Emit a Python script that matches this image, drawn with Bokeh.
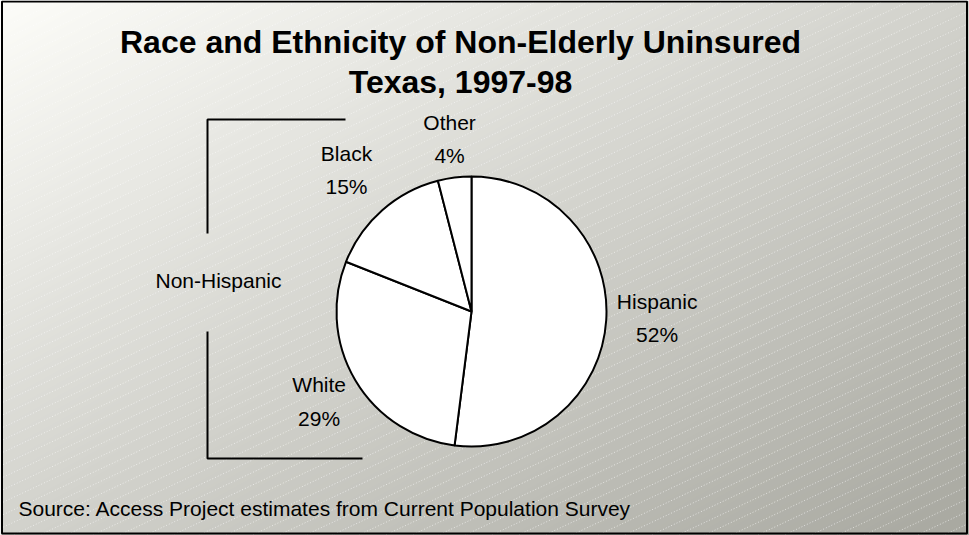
import numpy as np
from bokeh.plotting import figure
from bokeh.models import Range1d, ColumnDataSource
from bokeh.core.properties import value
from bokeh.embed import file_html
from bokeh.resources import INLINE

# Uninsured non-elderly Texans by race/ethnicity, 1997-98 (percent)
groups = ["Hispanic", "White", "Black", "Other"]
shares = [52, 29, 15, 4]
title_lines = ["Race and Ethnicity of Non-Elderly Uninsured", "Texas, 1997-98"]
source_note = "Source: Access Project estimates from Current Population Survey"
bracket_label = "Non-Hispanic"

W, H = 969, 535
FONT = "Liberation Sans"

p = figure(width=W, height=H, x_range=Range1d(0, W), y_range=Range1d(0, H),
           output_backend="svg", toolbar_location=None, min_border=0)
p.axis.visible = False
p.grid.visible = False
p.outline_line_color = None
p.background_fill_color = "#ffffff"
p.border_fill_color = "#ffffff"

# diagonal grey gradient backdrop, light at top-left, darker at bottom-right
light = np.array([253, 253, 249], dtype=float)
dark = np.array([168, 168, 160], dtype=float)
yy, xx = np.mgrid[0:H, 0:W]
t = (xx / W + (H - yy) / H) / 2.0
t = np.clip(t, 0, 1)[..., None]
rgb = (light * (1 - t) + dark * t).astype(np.uint32)
img = (255 << 24) | (rgb[..., 2] << 16) | (rgb[..., 1] << 8) | rgb[..., 0]
p.image_rgba(image=[img.astype(np.uint32)], x=0, y=0, dw=W, dh=H)

# faint white dotted diagonal hatching
slope = 0.47
xs, ys = [], []
for c in np.arange(-slope * W, H + 20, 12.5):
    xs.append([0, W])
    ys.append([c, c + slope * W])
p.multi_line(xs, ys, line_color="white", line_alpha=0.6, line_width=1, line_dash="1 2")

# pie wedges, clockwise from twelve o'clock
cx, cy, r = 471, 224, 135
frac = np.array(shares, dtype=float) / sum(shares)
cum = np.concatenate([[0], np.cumsum(frac)])
start = np.pi / 2 - 2 * np.pi * cum[:-1]
end = np.pi / 2 - 2 * np.pi * cum[1:]
src = ColumnDataSource(dict(start=start, end=end, group=groups))
p.wedge(x=cx, y=cy, radius=r, start_angle="start", end_angle="end", direction="clock",
        fill_color="white", line_color="black", line_width=2, source=src)

# slice labels placed outward along each wedge's mid angle
label_radius = np.array([186, 177, 189, 175])
label_nudge_y = np.array([5, 0, 0, -1])
mid = np.pi / 2 - 2 * np.pi * (cum[:-1] + frac / 2)
lx = cx + label_radius * np.cos(mid)
ly = cy + label_radius * np.sin(mid) + label_nudge_y
labels = [f"{g}\n{s}%" for g, s in zip(groups, shares)]
p.text(x=lx, y=ly, text=labels, text_font=value(FONT), text_font_size="21px",
       text_align="center", text_baseline="middle", text_line_height=1.45, text_color="#000000")

# bracket grouping the non-Hispanic slices
p.line([345, 207, 207], [H - 119, H - 119, H - 233], line_color="black", line_width=2)
p.line([207, 207, 362], [H - 331, H - 458, H - 458], line_color="black", line_width=2)
p.text(x=[218], y=[H - 280], text=[bracket_label], text_font=value(FONT), text_font_size="21px",
       text_align="center", text_baseline="middle", text_color="#000000")

# title
p.text(x=[460, 460], y=[H - 41, H - 81], text=title_lines, text_font=value(FONT),
       text_font_size="32px", text_font_style="bold", text_align="center",
       text_baseline="middle", text_color="#000000")

# source note
p.text(x=[18], y=[H - 508], text=[source_note], text_font=value(FONT), text_font_size="21px",
       text_align="left", text_baseline="middle", text_color="#000000")

# frame around the whole chart
p.quad(left=[1.5], right=[966.5], bottom=[2], top=[534], fill_color=None,
       line_color="black", line_width=2)

open("out.html", "w").write(file_html(p, INLINE))
